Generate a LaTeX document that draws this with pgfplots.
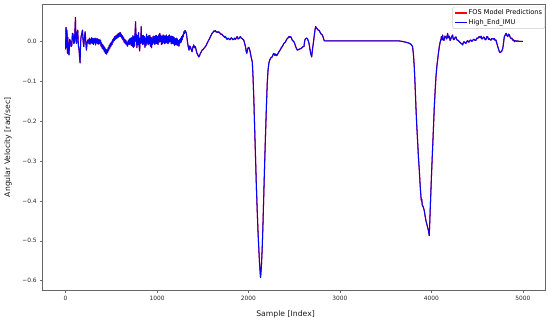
\documentclass[border=0pt]{standalone}
\usepackage{fontspec}
\setmainfont{DejaVu Sans}
\usepackage{pgfplots}
\pgfplotsset{compat=1.18}
\usepackage{pgfplotstable}

\pgfplotstableread{
x y
0 -0.02
5 0.035
10 -0.015
15 0.028
20 -0.03
25 0.01
30 -0.025
38 -0.034
45 0.005
53 0.0
60 -0.013
68 -0.01
75 0.02
82 0.018
90 -0.005
97 -0.003
103 0.03
108 0.06
113 0.01
119 -0.005
126 0.02
133 0.028
140 -0.01
148 -0.022
153 -0.04
159 -0.054
165 0.0
170 0.012
178 0.02
185 0.028
192 0.0
199 -0.013
207 0.01
214 0.024
221 0.0
228 -0.022
235 -0.005
243 0.003
250 0.004
256 -0.006
262 0.008
268 -0.007
274 0.005
280 -0.004
286 0.009
292 -0.005
298 0.007
304 -0.008
310 0.006
316 -0.003
322 0.008
328 -0.009
334 0.006
340 -0.004
346 0.007
352 -0.006
358 0.005
364 -0.007
370 0.004
376 -0.005
382 0.003
388 -0.012
394 -0.004
400 -0.017
406 -0.008
412 -0.02
418 -0.012
424 -0.026
430 -0.016
436 -0.03
442 -0.02
448 -0.032
454 -0.022
460 -0.028
466 -0.016
472 -0.022
478 -0.01
484 -0.017
490 -0.005
496 -0.012
502 -0.002
508 -0.008
514 0.004
520 -0.002
526 0.008
532 0.002
538 0.012
544 0.005
550 0.014
556 0.007
562 0.016
568 0.009
574 0.019
580 0.011
586 0.021
592 0.013
598 0.022
604 0.012
610 0.018
616 0.008
622 0.014
628 0.004
634 0.01
640 -0.002
646 0.005
652 -0.005
658 0.003
664 -0.008
670 -0.002
676 -0.012
682 -0.004
688 0.003
694 -0.008
700 0.006
706 -0.006
712 0.008
718 -0.01
724 0.009
730 -0.012
736 0.014
742 -0.015
748 0.012
754 -0.012
760 0.022
766 0.049
770 0.0
774 0.018
780 -0.016
786 0.014
792 -0.008
798 0.022
804 -0.01
810 -0.024
816 0.008
822 -0.005
827 0.037
832 -0.004
838 0.014
844 -0.008
850 0.015
856 -0.006
862 0.012
868 -0.015
874 0.008
880 -0.01
886 0.018
892 -0.004
898 0.012
904 -0.008
910 0.014
916 -0.006
922 0.015
928 -0.012
934 0.01
940 -0.016
946 0.008
952 -0.008
958 0.013
964 -0.004
970 0.012
976 -0.008
982 0.014
988 -0.005
994 0.015
1000 -0.006
1006 0.012
1012 -0.008
1018 0.016
1024 -0.002
1030 0.02
1036 0.0
1042 0.015
1048 -0.008
1054 0.012
1060 -0.006
1066 0.016
1072 -0.002
1078 0.014
1084 -0.006
1090 0.013
1096 -0.004
1102 0.016
1108 -0.002
1114 0.012
1120 -0.006
1126 0.014
1132 -0.002
1138 0.016
1144 0.0
1150 0.012
1156 -0.006
1162 0.013
1168 -0.005
1174 0.012
1180 -0.006
1186 0.01
1192 -0.01
1198 0.006
1204 -0.008
1210 0.008
1216 -0.009
1222 0.006
1228 -0.01
1234 0.002
1240 -0.012
1246 0.004
1252 -0.004
1258 0.008
1264 -0.002
1270 0.012
1276 0.004
1282 0.016
1288 0.012
1294 0.024
1300 0.02
1306 0.027
1313 0.025
1321 0.02
1328 0.008
1335 -0.005
1343 -0.015
1350 -0.022
1357 -0.012
1364 -0.013
1373 -0.02
1383 -0.026
1392 -0.015
1401 -0.009
1410 -0.016
1419 -0.013
1428 -0.022
1437 -0.03
1446 -0.034
1456 -0.039
1465 -0.036
1474 -0.03
1483 -0.027
1492 -0.022
1501 -0.021
1510 -0.018
1520 -0.016
1529 -0.013
1538 -0.01
1547 -0.005
1556 -0.001
1565 0.003
1575 0.007
1584 0.012
1593 0.016
1602 0.02
1611 0.022
1620 0.026
1629 0.025
1638 0.027
1648 0.023
1657 0.024
1666 0.022
1675 0.024
1684 0.021
1693 0.02
1702 0.017
1711 0.018
1721 0.014
1730 0.013
1739 0.01
1748 0.012
1757 0.008
1766 0.005
1775 0.008
1784 0.007
1794 0.004
1803 0.005
1812 0.009
1821 0.007
1830 0.004
1839 0.005
1849 0.008
1858 0.005
1867 0.009
1876 0.012
1885 0.006
1894 0.007
1903 0.01
1912 0.012
1921 0.008
1931 0.007
1940 0.005
1949 0.003
1958 -0.005
1967 -0.013
1975 -0.025
1982 -0.03
1990 -0.02
1997 -0.016
2004 -0.015
2012 -0.02
2020 -0.028
2028 -0.038
2035 -0.045
2042 -0.052
2050 -0.09
2059 -0.147
2068 -0.22
2077 -0.29
2086 -0.36
2095 -0.42
2104 -0.475
2113 -0.52
2122 -0.56
2132 -0.592
2141 -0.565
2150 -0.52
2159 -0.455
2168 -0.38
2177 -0.305
2187 -0.23
2196 -0.165
2205 -0.106
2214 -0.072
2223 -0.055
2232 -0.047
2241 -0.043
2250 -0.04
2260 -0.039
2269 -0.033
2278 -0.03
2287 -0.035
2297 -0.032
2306 -0.036
2315 -0.034
2324 -0.03
2333 -0.026
2342 -0.023
2351 -0.02
2361 -0.015
2370 -0.013
2379 -0.009
2388 -0.005
2397 -0.003
2406 -0.001
2415 0.004
2424 0.007
2434 0.009
2443 0.012
2452 0.01
2461 0.012
2470 0.008
2479 0.003
2488 0.001
2497 -0.001
2506 -0.006
2516 -0.013
2525 -0.018
2534 -0.022
2543 -0.021
2552 -0.02
2561 -0.019
2571 -0.018
2580 -0.017
2589 -0.015
2598 -0.013
2607 -0.013
2612 -0.003
2618 0.004
2625 0.007
2635 0.008
2644 0.007
2653 0.002
2662 -0.005
2671 -0.018
2680 -0.03
2691 -0.039
2700 -0.02
2709 -0.005
2718 0.012
2727 0.028
2735 0.037
2744 0.033
2753 0.031
2762 0.028
2771 0.028
2780 0.024
2790 0.02
2799 0.017
2808 0.016
2817 0.01
2826 0.003
2835 0.001
2900 0.001
3000 0.001
3100 0.001
3200 0.001
3300 0.001
3400 0.001
3500 0.001
3600 0.001
3650 0.001
3700 -0.001
3750 -0.004
3776 -0.007
3794 -0.013
3803 -0.03
3813 -0.064
3822 -0.11
3831 -0.164
3840 -0.21
3849 -0.248
3858 -0.288
3868 -0.323
3877 -0.36
3886 -0.39
3891 -0.4
3895 -0.396
3900 -0.41
3911 -0.415
3922 -0.424
3931 -0.437
3940 -0.449
3950 -0.458
3959 -0.466
3968 -0.475
3977 -0.487
3986 -0.43
3995 -0.374
4004 -0.32
4014 -0.265
4023 -0.215
4032 -0.164
4041 -0.125
4050 -0.089
4059 -0.065
4068 -0.047
4078 -0.028
4087 -0.013
4096 -0.002
4105 0.005
4110 0.012
4115 0.004
4123 0.016
4130 0.003
4141 0.003
4148 0.013
4159 0.011
4168 0.006
4177 0.02
4186 0.009
4196 0.013
4205 0.002
4214 0.007
4223 0.012
4232 0.016
4241 0.004
4250 0.005
4260 0.01
4269 0.011
4278 0.004
4287 0.003
4296 0.002
4305 -0.001
4315 -0.003
4324 -0.005
4333 -0.006
4342 -0.009
4351 -0.002
4360 -0.001
4369 -0.004
4378 -0.005
4388 0.0
4397 0.002
4406 -0.002
4415 -0.001
4424 0.003
4433 0.003
4442 0.0
4451 0.002
4461 0.005
4470 0.005
4479 0.002
4488 0.003
4497 0.008
4506 0.007
4515 0.01
4524 0.012
4534 0.009
4543 0.013
4552 0.006
4561 0.007
4570 0.011
4579 0.01
4588 0.004
4598 0.005
4607 0.012
4616 0.011
4625 0.005
4634 0.007
4643 0.004
4652 0.003
4661 0.007
4671 0.007
4680 0.005
4689 0.007
4698 0.002
4707 0.003
4716 -0.005
4726 -0.013
4735 -0.02
4744 -0.026
4753 -0.028
4762 -0.026
4771 -0.024
4780 -0.018
4786 -0.01
4791 0.0
4798 0.012
4808 0.016
4817 0.02
4826 0.015
4835 0.012
4844 0.018
4853 0.016
4862 0.01
4871 0.007
4880 0.008
4890 0.003
4899 0.004
4908 -0.001
4917 0.002
4926 0.001
4935 0.0
4944 0.001
4960 0.0
5000 0.0
}\imu

\begin{document}
\begin{tikzpicture}
\useasboundingbox (0,0) rectangle (550pt,323pt);
\begin{axis}[
  at={(42.7pt,32.7pt)}, anchor=south west,
  scale only axis, width=502.9pt, height=285.8pt,
  xmin=-250, xmax=5249, ymin=-0.624, ymax=0.0924,
  xtick={0,1000,2000,3000,4000,5000},
  xticklabels={0,1000,2000,3000,4000,5000},
  ytick={-0.6,-0.5,-0.4,-0.3,-0.2,-0.1,0},
  yticklabels={−0.6,−0.5,−0.4,−0.3,−0.2,−0.1,0.0},
  tick align=outside, major tick length=2.5pt,
  xtick pos=bottom, ytick pos=left,
  tick style={black!60, line width=0.6pt},
  axis line style={black!60, line width=0.7pt},
  ticklabel style={font=\fontsize{5.9}{7}\selectfont, text=black!85},
  xlabel={Sample [Index]},
  ylabel={Angular Velocity [rad/sec]},
  label style={font=\fontsize{7.7}{9}\selectfont, text=black!90},
  xlabel style={at={(axis description cs:0.483,-0.083)}, anchor=center},
  ylabel style={at={(axis description cs:-0.069,0.5)}, anchor=center},
  no markers,
  legend style={at={(0.999,0.992)}, anchor=north east,
    draw=black!20, rounded corners=1.5pt,
    font=\fontsize{6.6}{7.5}\selectfont, inner sep=1.8pt,
    nodes={inner sep=1pt}, row sep=1pt},
  legend cell align=left,
  legend image code/.code={\draw[#1] (0pt,0pt) -- (12pt,0pt);},
]
\addlegendimage{draw=red, line width=1.25pt}
\addlegendimage{draw=blue, line width=1.25pt}
\addplot[draw=red, line width=1.08pt, line join=round, forget plot] table {\imu};
\addplot[draw=blue, line width=1.0pt, line join=round, forget plot] table {\imu};
\legend{FOS Model Predictions, High\_End\_IMU}
\end{axis}
\end{tikzpicture}
\end{document}
